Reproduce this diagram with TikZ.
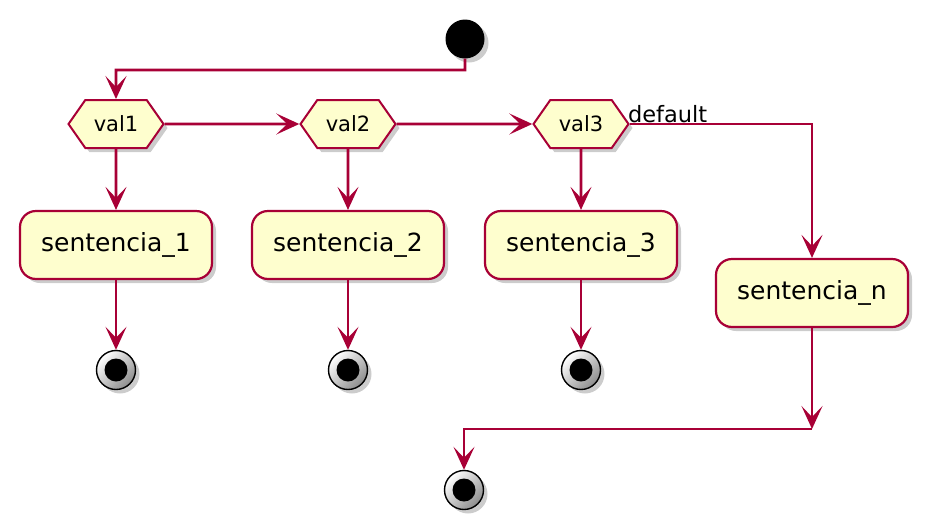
\documentclass[tikz,border=0pt]{standalone}
\usepackage{fontspec}
\setmainfont{DejaVu Sans}
\usetikzlibrary{arrows.meta,shapes.symbols,shadows}
\definecolor{umlred}{HTML}{A80036}
\definecolor{umlfill}{HTML}{FEFECE}
\tikzset{
	umlshadow/.style={drop shadow={shadow xshift=4pt, shadow yshift=-4pt, opacity=0.4}},
	activity/.style={rectangle, rounded corners=16pt, draw=umlred, fill=umlfill, line width=2.2pt, minimum width=192pt, minimum height=68pt, font=\fontsize{25}{30}\selectfont, umlshadow},
	decision/.style={signal, signal to=west and east, signal pointer angle=110, draw=umlred, fill=umlfill, line width=2pt, minimum width=95pt, minimum height=48pt, font=\fontsize{21}{25}\selectfont, umlshadow},
	startnode/.style={circle, fill=black, minimum size=39pt, inner sep=0pt, umlshadow},
	stopnode/.style={circle, draw=black, line width=1.4pt, top color=white, bottom color=black!45, shading angle=45, minimum size=39pt, inner sep=0pt, umlshadow, path picture={\fill[black] (path picture bounding box.center) circle (11.5pt);}},
	flow/.style={draw=umlred, line width=2.6pt, -{Stealth[length=23pt, width=21pt, inset=11pt]}}
}
\begin{document}
\begin{tikzpicture}[x=1pt, y=-1pt]
	\useasboundingbox (0,0) rectangle (930,531);
	\node[startnode] (start) at (465,39) {};
	\node[decision] (v1) at (116,124) {val1};
	\node[decision] (v2) at (348,124) {val2};
	\node[decision] (v3) at (581,124) {val3};
	\node[activity] (s1) at (116,245) {sentencia\_1};
	\node[activity] (s2) at (348,245) {sentencia\_2};
	\node[activity] (s3) at (581,245) {sentencia\_3};
	\node[activity] (sn) at (812,293) {sentencia\_n};
	\node[stopnode] (e1) at (116,370) {};
	\node[stopnode] (e2) at (348,370) {};
	\node[stopnode] (e3) at (581,370) {};
	\node[stopnode] (ef) at (464,490) {};
	\coordinate (j1) at (116,70);
	\coordinate (m1) at (812,429);
	\draw[flow] (start) |- (j1) -- (v1);
	\draw[flow] (v1) -- (v2);
	\draw[flow] (v2) -- (v3);
	\draw[flow] (v3.east) -| node[at start, anchor=south west, inner sep=0pt, xshift=-3pt, font=\fontsize{22.5}{27}\selectfont, text=black] {default} (sn);
	\draw[flow] (v1) -- (s1);
	\draw[flow] (v2) -- (s2);
	\draw[flow] (v3) -- (s3);
	\draw[flow] (s1) -- (e1);
	\draw[flow] (s2) -- (e2);
	\draw[flow] (s3) -- (e3);
	\draw[flow] (sn) -- (m1);
	\draw[flow] (m1) -| (ef);
\end{tikzpicture}
\end{document}
